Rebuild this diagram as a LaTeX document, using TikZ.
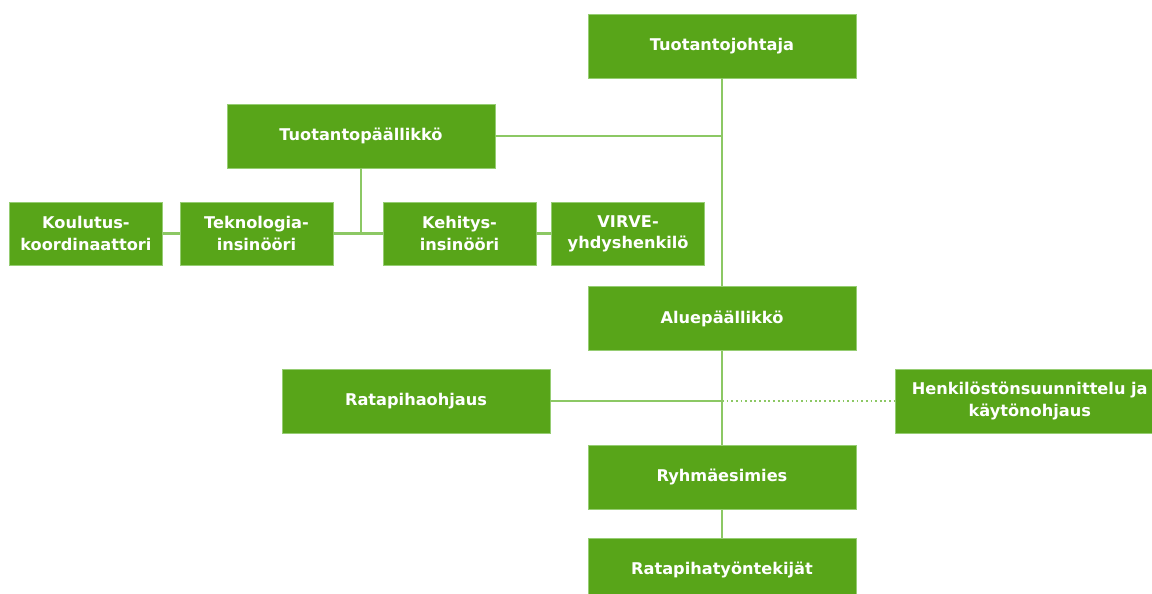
\documentclass[tikz,border=0pt]{standalone}
\usepackage{fontspec}
\setmainfont{DejaVu Sans}
\usetikzlibrary{positioning}
\definecolor{boxgreen}{RGB}{88,165,25}
\definecolor{boxline}{RGB}{150,205,115}
\definecolor{linegreen}{RGB}{140,200,100}

\begin{document}
\begin{tikzpicture}[
  x=0.025cm, y=-0.025cm,
  unit/.style={draw=boxline, thin, fill=boxgreen, text=white, align=center,
               font=\bfseries\fontsize{11.5}{15}\selectfont,
               minimum width=6.7cm, minimum height=1.6cm, inner sep=1pt},
  small/.style={unit, minimum width=3.825cm, minimum height=1.575cm},
  link/.style={draw=linegreen, line width=1.7pt},
  dotlink/.style={draw=linegreen, line width=1.3pt, dotted}
]
  \clip (0,0) rectangle (1152,593);

  \node[unit] (johtaja) at (722,46) {Tuotantojohtaja};
  \node[unit, below=5.2cm of johtaja] (alue) {Aluepäällikkö};
  \node[unit, below=2.35cm of alue] (ryhma) {Ryhmäesimies};
  \node[unit, below=0.7cm of ryhma] (tyontekijat) {Ratapihatyöntekijät};

  \node[unit] (paallikko) at (361,136) {Tuotantopäällikkö};
  \node[small] (tekno) at (256.5,233.5) {Teknologia-\\insinööri};
  \node[small, left=0.425cm of tekno] (koulutus) {Koulutus-\\koordinaattori};
  \node[small] (kehitys) at (459.5,233.5) {Kehitys-\\insinööri};
  \node[small, right=0.375cm of kehitys] (virve) {VIRVE-\\yhdyshenkilö};

  \node[unit] (ohjaus) at (416,401) {Ratapihaohjaus};
  \node[unit, right=8.625cm of ohjaus] (henkilosto) {Henkilöstönsuunnittelu ja\\käytönohjaus};
  \coordinate (jako) at (ohjaus -| alue);

  \draw[link] (johtaja) -- (alue);
  \draw[link] (paallikko) -- (paallikko -| johtaja);
  \draw[link] (paallikko) -- (paallikko |- tekno);
  \draw[link] (tekno) -- (kehitys);
  \draw[link] (koulutus) -- (tekno);
  \draw[link] (kehitys) -- (virve);
  \draw[link] (alue) -- (ryhma);
  \draw[link] (ryhma) -- (tyontekijat);
  \draw[link] (ohjaus) -- (jako);
  \draw[dotlink] (jako) -- (henkilosto);
\end{tikzpicture}
\end{document}
